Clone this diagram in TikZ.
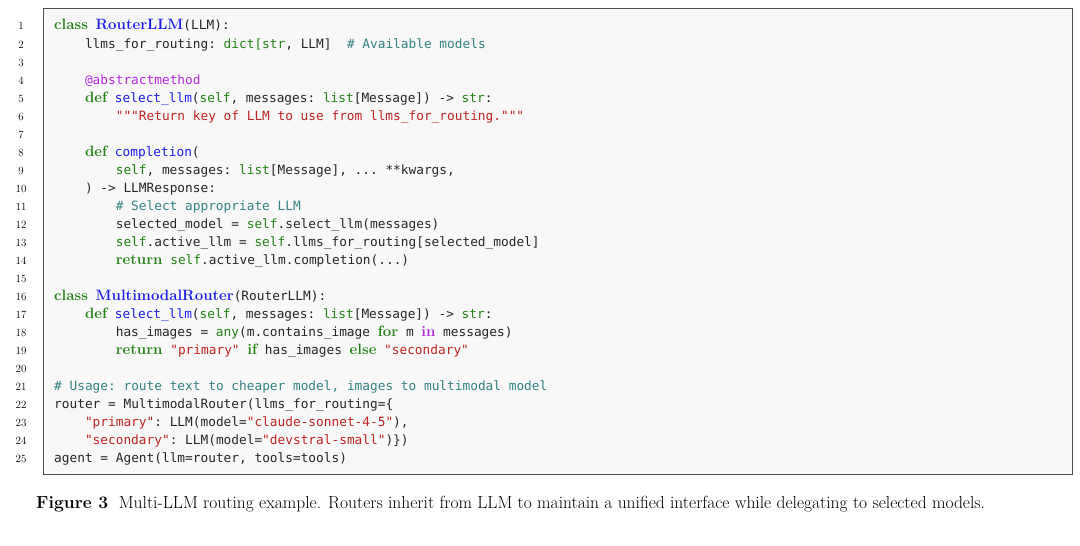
\documentclass[tikz,border=0pt]{standalone}
\usepackage{fontspec}
\setmonofont{DejaVu Sans Mono}[Scale=1]
\usepackage{xcolor}
\definecolor{kwc}{RGB}{34,130,20}
\definecolor{fnc}{RGB}{30,30,230}
\definecolor{strc}{RGB}{190,35,35}
\definecolor{cmc}{RGB}{50,130,130}
\definecolor{dcc}{RGB}{180,40,220}
\definecolor{bgc}{RGB}{248,248,248}
\newcommand{\kwB}[1]{{\rmfamily\bfseries\fontsize{15}{15}\selectfont\color{kwc}#1}}
\newcommand{\clsB}[1]{{\rmfamily\bfseries\fontsize{15}{15}\selectfont\color{fnc}#1}}
\newcommand{\inB}[1]{{\rmfamily\bfseries\fontsize{15}{15}\selectfont\color{dcc}#1}}
\newcommand{\bi}[1]{{\color{kwc}#1}}
\newcommand{\fn}[1]{{\color{fnc}#1}}
\newcommand{\st}[1]{{\color{strc}#1}}
\newcommand{\cm}[1]{{\color{cmc}#1}}
\newcommand{\dc}[1]{{\color{dcc}#1}}
\newcommand{\mycodeln}[3]{\node[code] (l#1) at ({54+#2*7.7},{30+18*(#1-1)}) {#3};}
\begin{document}
\begin{tikzpicture}[x=1pt,y=-1pt,
  code/.style={anchor=base west,inner sep=0pt,font=\ttfamily\fontsize{12.8}{12.8}\selectfont,text=black!85},
  num/.style={anchor=base,inner sep=0pt,font=\rmfamily\fontsize{11}{11}\selectfont}]
\useasboundingbox (0,0) rectangle (1080,546);
\draw[fill=bgc,draw=black!70,line width=1pt] (43,8) rectangle (1072,474);
\foreach \i in {1,...,25}{\node[num] (n\i) at (21,{30+18*(\i-1)}) {\i};}
\mycodeln{1}{0}{\kwB{class} \clsB{RouterLLM}(LLM):}
\mycodeln{2}{4}{llms\_for\_routing: \bi{dict[str}, LLM]\ \ \cm{\# Available models}}
\mycodeln{4}{4}{\dc{@abstractmethod}}
\mycodeln{5}{4}{\kwB{def} \fn{select\_llm}(\bi{self}, messages: \bi{list}[Message]) -> \bi{str}:}
\mycodeln{6}{8}{\st{"""Return key of LLM to use from llms\_for\_routing."""}}
\mycodeln{8}{4}{\kwB{def} \fn{completion}(}
\mycodeln{9}{8}{\bi{self}, messages: \bi{list}[Message], ... **kwargs,}
\mycodeln{10}{4}{) -> LLMResponse:}
\mycodeln{11}{8}{\cm{\# Select appropriate LLM}}
\mycodeln{12}{8}{selected\_model = \bi{self}.select\_llm(messages)}
\mycodeln{13}{8}{\bi{self}.active\_llm = \bi{self}.llms\_for\_routing[selected\_model]}
\mycodeln{14}{8}{\kwB{return} \bi{self}.active\_llm.completion(...)}
\mycodeln{16}{0}{\kwB{class} \clsB{MultimodalRouter}(RouterLLM):}
\mycodeln{17}{4}{\kwB{def} \fn{select\_llm}(\bi{self}, messages: \bi{list}[Message]) -> \bi{str}:}
\mycodeln{18}{8}{has\_images = \bi{any}(m.contains\_image \kwB{for} m \inB{in} messages)}
\mycodeln{19}{8}{\kwB{return} \st{"primary"} \kwB{if} has\_images \kwB{else} \st{"secondary"}}
\mycodeln{21}{0}{\cm{\# Usage: route text to cheaper model, images to multimodal model}}
\mycodeln{22}{0}{router = MultimodalRouter(llms\_for\_routing=\{}
\mycodeln{23}{4}{\st{"primary"}: LLM(model=\st{"claude-sonnet-4-5"}),}
\mycodeln{24}{4}{\st{"secondary"}: LLM(model=\st{"devstral-small"})\})}
\mycodeln{25}{0}{agent = Agent(llm=router, tools=tools)}
\node[anchor=north west,inner sep=0pt,text width=1036pt,align=justify,
  font=\rmfamily\fontsize{17.5}{24}\selectfont] (cap) at (36,496)
 {\textbf{Figure 3}\ \ Multi-LLM routing example. Routers inherit from LLM to maintain a unified interface while delegating to selected models.};
\end{tikzpicture}
\end{document}
